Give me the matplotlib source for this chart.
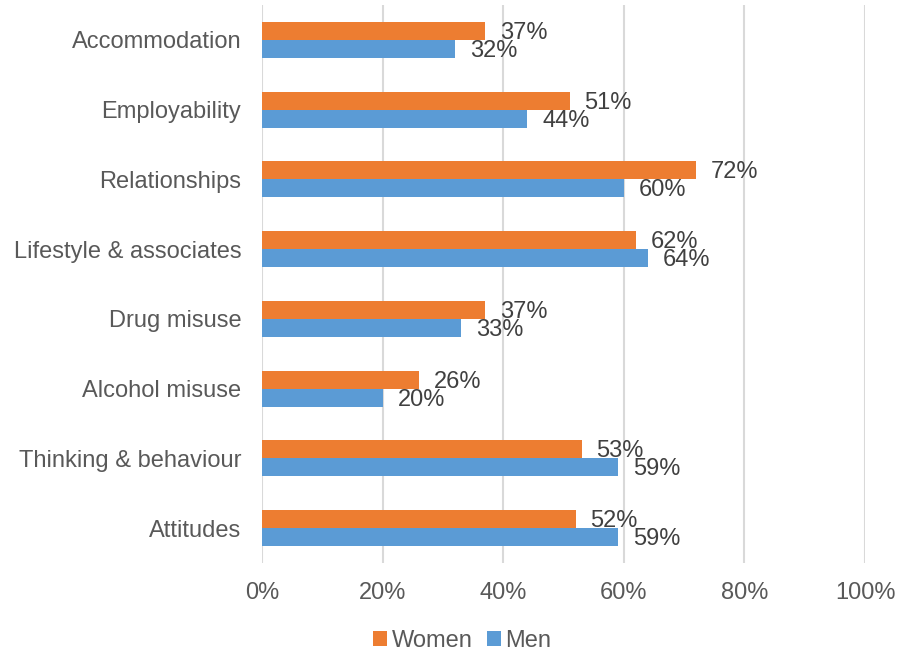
import numpy as np
import matplotlib.pyplot as plt
from matplotlib.ticker import PercentFormatter

plt.rcParams['font.family'] = ['Liberation Sans', 'DejaVu Sans']

categories = ['Accommodation', 'Employability', 'Relationships',
              'Lifestyle & associates', 'Drug misuse', 'Alcohol misuse',
              'Thinking & behaviour', 'Attitudes']
women = [37, 51, 72, 62, 37, 26, 53, 52]
men = [32, 44, 60, 64, 33, 20, 59, 59]
xticks = [0, 20, 40, 60, 80, 100]

orange = '#ED7D31'
blue = '#5B9BD5'
text_col = '#595959'
label_col = '#404040'
grid_col = '#D9D9D9'
fs = 17

fig = plt.figure(figsize=(8.97, 6.55), dpi=100)
ax = fig.add_axes([262 / 897, 92 / 655, 603 / 897, 558 / 655])

n = len(categories)
y = np.arange(n)[::-1]
h = 0.258

bw = ax.barh(y + h / 2, women, height=h, color=orange, label='Women', zorder=2)
bm = ax.barh(y - h / 2, men, height=h, color=blue, label='Men', zorder=2)

# value labels just past the end of each bar
for bars, vals in ((bw, women), (bm, men)):
    for b, v in zip(bars, vals):
        ax.annotate(f'{v}%', (v, b.get_y() + b.get_height() / 2),
                    xytext=(15, -2), textcoords='offset pixels',
                    ha='left', va='center', fontsize=fs, color=label_col)

ax.set_xlim(0, 100)
ax.set_ylim(-0.5, n - 0.5)
ax.set_xticks(xticks)
ax.xaxis.set_major_formatter(PercentFormatter(decimals=0))
ax.set_yticks(y)
ax.set_yticklabels(categories)
ax.tick_params(axis='both', length=0, labelsize=fs, labelcolor=text_col)
ax.tick_params(axis='x', pad=14)
ax.tick_params(axis='y', pad=15)
ax.grid(axis='x', color=grid_col, linewidth=1.5, zorder=0)
for s in ax.spines.values():
    s.set_visible(False)

fig.legend(loc='center', bbox_to_anchor=(462 / 897, 1 - 641 / 655),
           ncol=2, frameon=False, fontsize=fs, handlelength=0.6,
           handleheight=0.6, handletextpad=0.2, columnspacing=0.6,
           labelcolor=text_col)

fig.savefig('out.png', dpi=100)
